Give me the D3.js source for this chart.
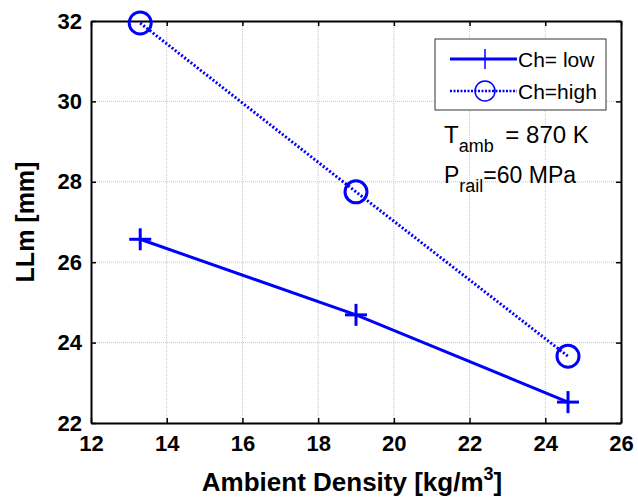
<!DOCTYPE html>
<html>
<head>
<meta charset="utf-8">
<script src="https://d3js.org/d3.v7.min.js"></script>
<style>
  body { margin: 0; background: #fff; }
  svg { font-family: Arial, "Liberation Sans", sans-serif; }
</style>
</head>
<body>
<script>
// data
var density = [13.3, 19.0, 24.6];
var llmLow = [26.57, 24.69, 22.52];
var llmHigh = [31.95, 27.75, 23.66];
var xTicks = [12, 14, 16, 18, 20, 22, 24, 26];
var yTicks = [22, 24, 26, 28, 30, 32];
var seriesNames = ["Ch= low", "Ch=high"];

var W = 638, H = 502;
var margin = {top: 21, right: 17, bottom: 79, left: 91};
var width = W - margin.left - margin.right;
var height = H - margin.top - margin.bottom;
var blue = "#0000ff";

var svg = d3.select("body").append("svg")
    .attr("width", W).attr("height", H);
var g = svg.append("g")
    .attr("transform", "translate(" + margin.left + "," + margin.top + ")");

var x = d3.scaleLinear().domain([12, 26]).range([0, width]);
var y = d3.scaleLinear().domain([22, 32]).range([height, 0]);

// grid
g.append("g").selectAll("line").data(xTicks.slice(1, -1)).join("line")
    .attr("x1", d => x(d)).attr("x2", d => x(d))
    .attr("y1", 0).attr("y2", height)
    .attr("stroke", "#c8c8c8").attr("stroke-width", 1).attr("stroke-dasharray", "1,1");
g.append("g").selectAll("line").data(yTicks.slice(1, -1)).join("line")
    .attr("y1", d => y(d)).attr("y2", d => y(d))
    .attr("x1", 0).attr("x2", width)
    .attr("stroke", "#c8c8c8").attr("stroke-width", 1).attr("stroke-dasharray", "1,1");

// axes, ticks pointing inward
var xAxis = g.append("g").attr("transform", "translate(0," + height + ")")
    .call(d3.axisBottom(x).tickValues(xTicks).tickSizeInner(-5).tickSizeOuter(0).tickPadding(12));
var yAxis = g.append("g")
    .call(d3.axisLeft(y).tickValues(yTicks).tickSizeInner(-5).tickSizeOuter(0).tickPadding(9));
var xTop = g.append("g")
    .call(d3.axisTop(x).tickValues(xTicks).tickSizeInner(-5).tickSizeOuter(0).tickFormat(""));
var yRight = g.append("g").attr("transform", "translate(" + width + ",0)")
    .call(d3.axisRight(y).tickValues(yTicks).tickSizeInner(-5).tickSizeOuter(0).tickFormat(""));

[xAxis, yAxis, xTop, yRight].forEach(function(a) {
    a.select(".domain").attr("stroke", "#000").attr("stroke-width", 2);
    a.selectAll(".tick line").attr("stroke", "#000").attr("stroke-width", 1.5);
    a.selectAll("text").attr("fill", "#000")
        .style("font-size", "22px").style("font-weight", "bold");
});

// lines
var lowPts = density.map((d, i) => [d, llmLow[i]]);
var highPts = density.map((d, i) => [d, llmHigh[i]]);
var line = d3.line().x(d => x(d[0])).y(d => y(d[1]));

g.append("path").datum(lowPts).attr("d", line)
    .attr("fill", "none").attr("stroke", blue).attr("stroke-width", 3);
g.append("path").datum(highPts).attr("d", line)
    .attr("fill", "none").attr("stroke", blue).attr("stroke-width", 3)
    .attr("stroke-dasharray", "2,2");

function plus(sel, s, sw) {
    sel.append("line").attr("x1", -s).attr("x2", s).attr("y1", 0).attr("y2", 0)
        .attr("stroke", blue).attr("stroke-width", sw);
    sel.append("line").attr("y1", -s).attr("y2", s).attr("x1", 0).attr("x2", 0)
        .attr("stroke", blue).attr("stroke-width", sw);
}

g.append("g").selectAll("g").data(lowPts).join("g")
    .attr("transform", d => "translate(" + x(d[0]) + "," + y(d[1]) + ")")
    .each(function() { plus(d3.select(this), 11, 3); });

g.append("g").selectAll("circle").data(highPts).join("circle")
    .attr("cx", d => x(d[0])).attr("cy", d => y(d[1])).attr("r", 11)
    .attr("fill", "none").attr("stroke", blue).attr("stroke-width", 3);

// legend
var lg = svg.append("g").attr("transform", "translate(435,39)");
lg.append("rect").attr("width", 171).attr("height", 71)
    .attr("fill", "#fff").attr("stroke", "#333").attr("stroke-width", 1);
var rows = [20, 52];
seriesNames.forEach(function(name, i) {
    var r = lg.append("g").attr("transform", "translate(0," + rows[i] + ")");
    r.append("line").attr("x1", 15).attr("x2", 82).attr("y1", 0).attr("y2", 0)
        .attr("stroke", blue).attr("stroke-width", i == 0 ? 3 : 2.5)
        .attr("stroke-dasharray", i == 0 ? null : "2,1.5");
    var m = r.append("g").attr("transform", "translate(50,0)");
    if (i == 0) plus(m, 10, 1.5);
    else m.append("circle").attr("r", 10).attr("fill", "none")
        .attr("stroke", blue).attr("stroke-width", 1.5);
    r.append("text").attr("x", 83).attr("y", 8)
        .style("font-size", "21px").attr("fill", "#000").text(name);
});

// annotation
var t1 = svg.append("text").attr("x", 444).attr("y", 143)
    .style("font-size", "24px").attr("fill", "#000");
t1.append("tspan").text("T");
t1.append("tspan").attr("dy", 9).style("font-size", "18px").text("amb");
t1.append("tspan").attr("dy", -9).attr("dx", 5).text(" = 870 K");

var t2 = svg.append("text").attr("x", 444).attr("y", 183)
    .style("font-size", "23px").attr("fill", "#000");
t2.append("tspan").text("P");
t2.append("tspan").attr("dy", 9).style("font-size", "18px").text("rail");
t2.append("tspan").attr("dy", -9).text("=60 MPa");

// axis titles
svg.append("text").attr("text-anchor", "middle")
    .attr("transform", "translate(34," + (margin.top + height / 2) + ") rotate(-90)")
    .style("font-size", "25px").style("font-weight", "bold").attr("fill", "#000")
    .text("LLm [mm]");

var xl = svg.append("text").attr("text-anchor", "middle")
    .attr("x", margin.left + width / 2 - 4).attr("y", 491)
    .style("font-size", "26px").style("font-weight", "bold").attr("fill", "#000");
xl.append("tspan").text("Ambient Density [kg/m");
xl.append("tspan").attr("dy", -11).style("font-size", "18px").text("3");
xl.append("tspan").attr("dy", 11).text("]");
</script>
</body>
</html>
